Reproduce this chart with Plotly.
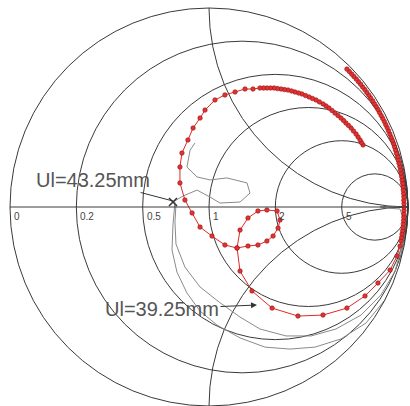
import numpy as np
import plotly.graph_objects as go

red_re = [0.774, 0.766, 0.759, 0.749, 0.739, 0.726, 0.714, 0.701, 0.688, 0.676,
          0.663, 0.648, 0.633, 0.618, 0.603, 0.588, 0.573, 0.555, 0.538, 0.520,
          0.503, 0.485, 0.467, 0.450, 0.432, 0.415, 0.397, 0.379, 0.362, 0.344,
          0.327, 0.309, 0.291, 0.274, 0.256,
          0.221, 0.181, 0.131, 0.080, 0.030, -0.020, -0.045, -0.080, -0.106, -0.136,
          -0.146, -0.146, -0.121, -0.085, -0.045, 0.015, 0.080, 0.141, 0.196, 0.246,
          0.291, 0.322, 0.347, 0.357, 0.342, 0.291, 0.246, 0.196, 0.156, 0.141,
          0.156, 0.216, 0.317, 0.447, 0.573, 0.693, 0.784, 0.849, 0.910, 0.945,
          0.960,
          0.965, 0.968, 0.970, 0.973, 0.975, 0.976, 0.978, 0.979, 0.979, 0.980,
          0.980, 0.980, 0.979, 0.979, 0.978, 0.976, 0.975, 0.973, 0.970, 0.968,
          0.965, 0.962, 0.959, 0.955, 0.951, 0.947, 0.942, 0.937, 0.932, 0.927,
          0.921, 0.915, 0.909, 0.902, 0.895, 0.888, 0.881, 0.873, 0.865, 0.857,
          0.849, 0.840, 0.831, 0.822, 0.812, 0.803, 0.793, 0.783, 0.772, 0.762,
          0.751, 0.740, 0.728, 0.717, 0.705, 0.693]
red_im = [0.312, 0.324, 0.337, 0.352, 0.367, 0.382, 0.397, 0.410, 0.422, 0.435,
          0.447, 0.460, 0.472, 0.485, 0.497, 0.508, 0.518, 0.528, 0.538, 0.545,
          0.553, 0.560, 0.568, 0.573, 0.578, 0.583, 0.588, 0.590, 0.593, 0.595,
          0.598, 0.598, 0.598, 0.598, 0.598,
          0.593, 0.593, 0.578, 0.563, 0.538, 0.487, 0.447, 0.397, 0.337, 0.271,
          0.201, 0.121, 0.035, -0.030, -0.101, -0.146, -0.191, -0.206, -0.196, -0.191,
          -0.171, -0.146, -0.106, -0.065, -0.020, -0.015, -0.020, -0.055, -0.116, -0.206,
          -0.322, -0.422, -0.508, -0.548, -0.543, -0.508, -0.447, -0.382, -0.317, -0.246,
          -0.196,
          -0.170, -0.153, -0.136, -0.119, -0.102, -0.085, -0.068, -0.051, -0.034, -0.017,
          0.000, 0.017, 0.034, 0.051, 0.068, 0.085, 0.102, 0.119, 0.136, 0.153,
          0.170, 0.187, 0.204, 0.220, 0.237, 0.254, 0.270, 0.287, 0.303, 0.319,
          0.335, 0.351, 0.367, 0.383, 0.399, 0.414, 0.430, 0.445, 0.460, 0.475,
          0.490, 0.505, 0.519, 0.534, 0.548, 0.562, 0.576, 0.590, 0.603, 0.617,
          0.630, 0.643, 0.656, 0.668, 0.681, 0.693]

grey_a_re = [0.955, 0.900, 0.860, 0.900, 0.960, 0.985, 0.975, 0.950, 0.884, 0.789,
             0.663, 0.533, 0.407, 0.281, 0.156, 0.040, -0.045, -0.111, -0.161, -0.186,
             -0.181, -0.171, -0.181, -0.131, -0.060, 0.005, 0.055, 0.156, 0.206, 0.191,
             0.090, 0.005, -0.060, -0.111, -0.095, -0.070]
grey_a_im = [0.000, 0.004, 0.000, -0.006, -0.010, -0.090, -0.191, -0.342, -0.467, -0.583,
             -0.663, -0.704, -0.714, -0.704, -0.658, -0.593, -0.523, -0.432, -0.327, -0.216,
             -0.090, 0.025, 0.025, 0.055, 0.085, 0.050, 0.020, 0.025, 0.070, 0.121,
             0.146, 0.136, 0.151, 0.201, 0.286, 0.322]
grey_b_re = [0.990, 0.975, 0.935, 0.864, 0.764, 0.638, 0.513, 0.387, 0.256, 0.156,
             0.050, -0.045, -0.121, -0.166, -0.171, -0.166]
grey_b_im = [-0.060, -0.176, -0.322, -0.442, -0.543, -0.613, -0.648, -0.648, -0.613, -0.553,
             -0.477, -0.402, -0.302, -0.186, -0.075, 0.015]
mark_re = [-0.181]
mark_im = [0.025]

r_ticks = [0.2, 0.5, 1, 2, 5]
r_labels = [0, 0.2, 0.5, 1, 2, 5]
x_ticks = [-1, 1]
label_a = "Ul=43.25mm"
label_b = "Ul=39.25mm"

# geometry of the Smith disc inside the 410x406 page (pixels)
CX, CY, R = 209.0, 207.0, 199.0
W, H = 410.0, 406.0


def to_z(re, im):
    g = np.array(re) + 1j * np.array(im)
    z = (1 + g) / (1 - g)
    return z.real, z.imag


fig = go.Figure()
for re, im in [(grey_a_re, grey_a_im), (grey_b_re, grey_b_im)]:
    zr, zi = to_z(re, im)
    fig.add_trace(go.Scattersmith(real=zr, imag=zi, mode="lines",
                                  line=dict(color="#8a8a8a", width=1)))
zr, zi = to_z(red_re, red_im)
fig.add_trace(go.Scattersmith(real=zr, imag=zi, mode="lines+markers",
                              line=dict(color="#e02828", width=1),
                              marker=dict(size=4.5, color="#e03434",
                                          line=dict(color="#9a1010", width=0.6))))
zr, zi = to_z(mark_re, mark_im)
fig.add_trace(go.Scattersmith(real=zr, imag=zi, mode="markers",
                              marker=dict(symbol="x-thin", size=8,
                                          line=dict(color="#333", width=1.5))))

# resistance labels along the real axis, just right of each circle's crossing
tick_annots = []
for r in r_labels:
    g = (r - 1) / (r + 1)
    tick_annots.append(dict(
        xref="paper", yref="paper", x=(CX + R * g + 2) / W, y=1 - (CY + 9) / H,
        xanchor="left", yanchor="middle", text=str(r), showarrow=False,
        font=dict(size=10, color="#444", family="Liberation Sans Narrow, Liberation Sans")))

grid = "#3a3a3a"
fig.update_layout(
    width=410, height=406,
    margin=dict(l=0, r=0, t=0, b=0),
    paper_bgcolor="white",
    showlegend=False,
    smith=dict(
        domain=dict(x=[(CX - R) / W, (CX + R) / W], y=[1 - (CY + R) / H, 1 - (CY - R) / H]),
        bgcolor="white",
        realaxis=dict(tickvals=r_ticks, gridcolor=grid, gridwidth=1,
                      linecolor=grid, linewidth=1, ticks="", showticklabels=False),
        imaginaryaxis=dict(tickvals=x_ticks, gridcolor=grid, gridwidth=1,
                           linecolor=grid, linewidth=1, ticks="",
                           showticklabels=False),
    ),
    annotations=tick_annots + [
        dict(xref="paper", yref="paper", x=173 / W, y=1 - 201 / H,
             ax=-80, ay=-21, text=label_a, showarrow=True, arrowhead=0,
             arrowwidth=1, arrowcolor="#333",
             font=dict(size=20, color="#555", family="Liberation Sans")),
        dict(xref="paper", yref="paper", x=257 / W, y=1 - 305 / H,
             ax=-95, ay=4, text=label_b, showarrow=True, arrowhead=2,
             arrowsize=1.2, arrowwidth=1, arrowcolor="#333",
             font=dict(size=20, color="#555", family="Liberation Sans")),
    ],
)
fig.write_html("out.html", config={"displayModeBar": False},
               post_script="document.body.style.margin='0';")
